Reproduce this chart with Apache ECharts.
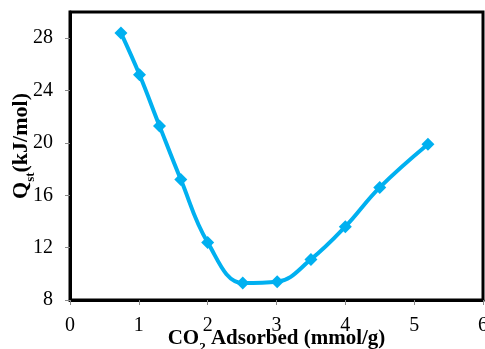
<!DOCTYPE html>
<html><head><meta charset="utf-8">
<script src="https://cdn.jsdelivr.net/npm/echarts@6/dist/echarts.min.js"></script>
<style>html,body{margin:0;padding:0;background:#fff}#c{width:485px;height:349px}</style>
</head><body><div id="c"></div>
<script>
const co2Adsorbed = [0.74, 1.01, 1.30, 1.61, 2.0, 2.51, 3.01, 3.5, 4.0, 4.5, 5.2];
const qst = [28.4, 25.2, 21.3, 17.2, 12.4, 9.3, 9.4, 11.1, 13.6, 16.6, 19.9];
const xTicks = [0, 1, 2, 3, 4, 5, 6];
const yTicks = [8, 12, 16, 20, 24, 28];

const chart = echarts.init(document.getElementById('c'));
const font = 'Liberation Serif';
chart.setOption({
  animation: false,
  grid: {left: 70, right: 2, top: 12, bottom: 49, outerBoundsMode: 'none', containLabel: false,
    show: true, borderColor: '#000', borderWidth: 3, backgroundColor: 'transparent'},
  xAxis: {
    type: 'value', min: 0, max: 6, interval: 1,
    splitLine: {show: false},
    axisLine: {lineStyle: {color: '#000', width: 3}},
    axisTick: {show: true, length: 5, lineStyle: {color: '#888', width: 1}},
    axisLabel: {color: '#000', fontFamily: font, fontSize: 20, margin: 16,
      formatter: v => xTicks.includes(v) ? String(v) : ''},
    name: '{a|CO}{s|2}{a| Adsorbed (mmol/g)}',
    nameLocation: 'middle', nameGap: 27, nameMoveOverlap: false,
    nameTextStyle: {rich: {
      a: {fontFamily: font, fontWeight: 'bold', fontSize: 21, color: '#000', lineHeight: 22, verticalAlign: 'bottom'},
      s: {fontFamily: font, fontWeight: 'bold', fontSize: 13, color: '#000', lineHeight: 22, verticalAlign: 'bottom', padding: [0, 0, -5, 0]}
    }}
  },
  yAxis: {
    type: 'value', min: 8, max: 30, interval: 4,
    splitLine: {show: false},
    axisLine: {lineStyle: {color: '#000', width: 3}},
    axisTick: {show: true, length: 5, lineStyle: {color: '#888', width: 1}},
    axisLabel: {color: '#000', fontFamily: font, fontSize: 20, margin: 17, showMaxLabel: false,
      formatter: v => yTicks.includes(v) ? String(v) : ''},
    name: '{a|Q}{s|st}{a|(kJ/mol)}',
    nameLocation: 'middle', nameGap: 38, nameRotate: 90, nameMoveOverlap: false,
    nameTextStyle: {padding: [0, 0, 0, 20], rich: {
      a: {fontFamily: font, fontWeight: 'bold', fontSize: 22, color: '#000', lineHeight: 22, verticalAlign: 'bottom'},
      s: {fontFamily: font, fontWeight: 'bold', fontSize: 13, color: '#000', lineHeight: 22, verticalAlign: 'bottom', padding: [0, 0, -5, 0]}
    }}
  },
  series: [{
    type: 'line', smooth: 0.4,
    data: co2Adsorbed.map((x, i) => [x, qst[i]]),
    lineStyle: {color: '#00B0F0', width: 4},
    itemStyle: {color: '#00B0F0'},
    symbol: 'diamond', symbolSize: 13
  }]
});
</script></body></html>
